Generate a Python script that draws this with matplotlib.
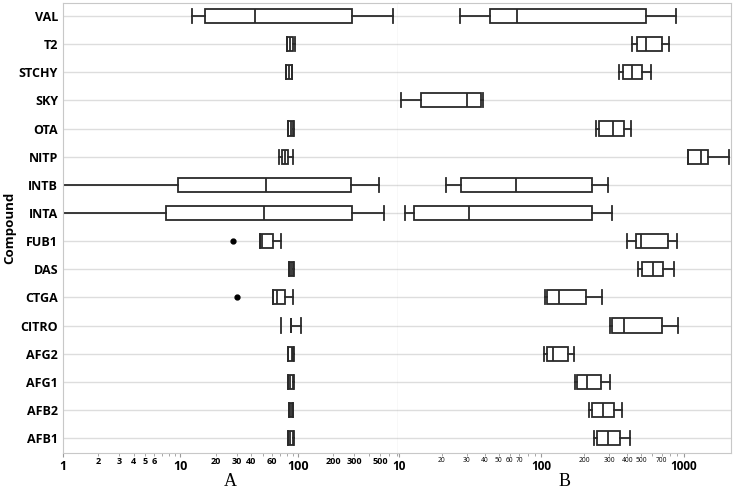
import matplotlib.pyplot as plt
from matplotlib.ticker import FixedLocator, FixedFormatter

compounds = ['AFB1', 'AFB2', 'AFG1', 'AFG2', 'CITRO', 'CTGA', 'DAS', 'FUB1',
             'INTA', 'INTB', 'NITP', 'OTA', 'SKY', 'STCHY', 'T2', 'VAL']

# panel A: lower whisker, Q1, median, Q3, upper whisker (None = no data)
a_low = [81.5, 84, 81.5, 82.5, 71.6, 60.7, 84, 47.5, 0.8, 0.8, 69, 82.7, None, 79, 80, 12.5]
a_q1 = [82.2, 84.5, 82, 83, 87, 60.7, 84.5, 47.5, 7.5, 9.6, 73, 83, None, 79.5, 80.5, 16.1]
a_med = [86, 87, 86, 89, 87, 65.8, 88, 49, 51.7, 53.4, 77.6, 87, None, 84, 86, 42.8]
a_q3 = [91.5, 90, 91, 91.5, 87, 77.6, 91, 61.5, 286, 283, 83, 91.5, None, 89, 91, 290]
a_high = [92, 90.5, 91.8, 93, 106, 91, 92, 71, 543, 492, 91, 93, None, 89.4, 94, 640]
a_out = [[], [], [], [], [], [30.4], [], [28.2], [], [], [], [], [], [], [], []]

# panel B
b_low = [233.6, 216.6, 172, 104, 305, 106, 478, 400, 11.1, 21.3, 1060, 241, 10.4, 348, 434, 26.8]
b_q1 = [244, 225, 176.6, 108.7, 311, 108.7, 505, 458, 12.7, 27.4, 1072, 255, 14.2, 373, 468, 43.3]
b_med = [292, 268.6, 210, 120, 378, 133, 609, 499, 30.8, 65.9, 1309, 316, 30.2, 434, 541, 67.3]
b_q3 = [357, 323, 260, 153, 697, 206, 708, 776, 225, 225, 1482, 378, 37.6, 505, 697, 541]
b_high = [420, 366, 303, 169, 903, 267, 851, 889, 311, 292, 2070, 425, 38.9, 587, 785, 879]
b_out = [[] for _ in compounds]

a_major = [1, 10, 100]
a_minor = [2, 3, 4, 5, 6, 7, 8, 9, 20, 30, 40, 50, 60, 70, 80, 90,
           200, 300, 400, 500, 600, 700]
a_minor_lbl = ['2', '3', '4', '5', '6', '', '', '', '20', '30', '40', '', '60', '', '', '',
               '200', '300', '', '500', '', '']
b_major = [10, 100, 1000]
b_minor = [20, 30, 40, 50, 60, 70, 80, 90, 200, 300, 400, 500, 600, 700, 800, 900]
b_minor_lbl = ['20', '30', '40', '50', '60', '70', '', '', '200', '300', '400', '500', '',
               '700', '', '']

plt.rcParams['font.family'] = ['Open Sans', 'DejaVu Sans']
LINE = '#2a2a2a'


def draw_panel(ax, low, q1, med, q3, high, out):
    stats, pos = [], []
    for i in range(len(compounds)):
        if med[i] is None:
            continue
        stats.append(dict(whislo=low[i], q1=q1[i], med=med[i], q3=q3[i],
                          whishi=high[i], fliers=out[i]))
        pos.append(i)
    art = ax.bxp(stats, positions=pos, vert=False, widths=0.5, capwidths=0.5,
                 patch_artist=True,
                 boxprops=dict(facecolor='white', edgecolor=LINE, linewidth=1.3),
                 medianprops=dict(color=LINE, linewidth=1.3),
                 whiskerprops=dict(color=LINE, linewidth=1.3),
                 capprops=dict(color=LINE, linewidth=1.3),
                 flierprops=dict(marker='o', markerfacecolor='black',
                                 markeredgecolor='black', markersize=3.5))
    ax.set_xscale('log')
    ax.set_ylim(-0.52, 15.46)
    ax.set_yticks(range(len(compounds)))
    ax.yaxis.grid(True, color='#dddddd', linewidth=1)
    ax.set_axisbelow(True)
    ax.tick_params(axis='y', length=0)
    for s in ['top', 'bottom', 'left', 'right']:
        ax.spines[s].set_color('#c8c8c8')
    return art, pos


fig = plt.figure(figsize=(7.33, 4.91), dpi=100)
ax_a = fig.add_axes([63 / 733, 1 - 452.7 / 491, 335 / 733, 449.7 / 491])
ax_b = fig.add_axes([398 / 733, 1 - 452.7 / 491, 333 / 733, 449.7 / 491])

art_a, pos_a = draw_panel(ax_a, a_low, a_q1, a_med, a_q3, a_high, a_out)
# CITRO in panel A: the lower cap stands alone, no whisker line
art_a['whiskers'][2 * pos_a.index(compounds.index('CITRO'))].set_visible(False)
draw_panel(ax_b, b_low, b_q1, b_med, b_q3, b_high, b_out)

ax_a.set_xlim(1, 710)
ax_b.set_xlim(9.85, 2140)

ax_a.set_yticklabels(compounds, fontsize=9, fontweight='bold')
ax_a.set_ylabel('Compound', fontsize=9.5, fontweight='bold', labelpad=2)
ax_b.set_yticklabels([])
ax_a.spines['right'].set_color('#8c8c8c')
ax_b.spines['left'].set_visible(False)

for ax, major, minor, mlbl, fs_major, fs_minor, mw in [
        (ax_a, a_major, a_minor, a_minor_lbl, 9, 6.5, 'bold'),
        (ax_b, b_major, b_minor, b_minor_lbl, 8.5, 4.8, 'normal')]:
    ax.xaxis.set_major_locator(FixedLocator(major))
    ax.xaxis.set_major_formatter(FixedFormatter([str(v) for v in major]))
    ax.xaxis.set_minor_locator(FixedLocator(minor))
    ax.xaxis.set_minor_formatter(FixedFormatter(mlbl))
    ax.tick_params(axis='x', which='major', length=3, width=0.8, color='#999999',
                   pad=2.5, labelsize=fs_major)
    ax.tick_params(axis='x', which='minor', length=2, width=0.6, color='#999999',
                   pad=1, labelsize=fs_minor)
    for t in ax.get_xticklabels():
        t.set_fontweight('bold')
    for t in ax.get_xticklabels(minor=True):
        t.set_fontweight(mw)

ax_a.set_xlabel('A', fontsize=13, family='Liberation Serif', labelpad=0)
ax_b.set_xlabel('B', fontsize=13, family='Liberation Serif', labelpad=0)

fig.savefig('out.png', dpi=100)
